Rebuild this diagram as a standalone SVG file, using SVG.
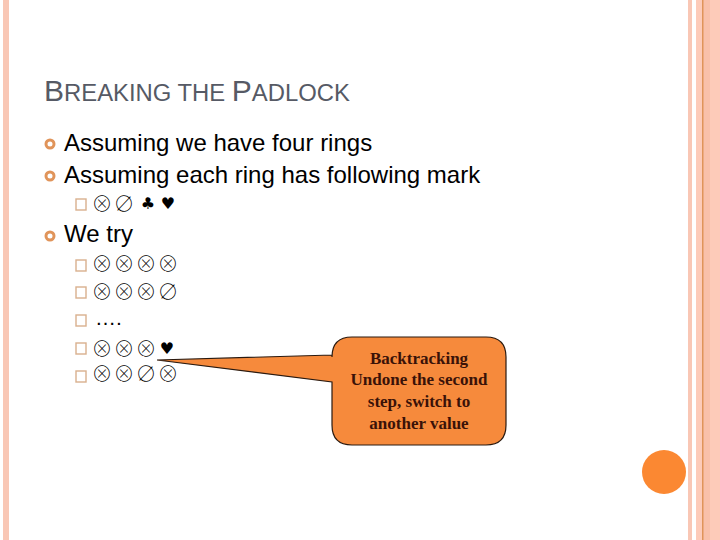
<svg xmlns="http://www.w3.org/2000/svg" width="720" height="540" viewBox="0 0 720 540">
<style>
.t{font-family:"Liberation Sans",Arial,sans-serif;fill:#000;font-size:24px}
.d{font-family:"Liberation Sans",Arial,sans-serif;fill:#000;font-size:21px}
.title{font-family:"Liberation Sans",Arial,sans-serif;fill:#565a65;font-size:23.85px}
.title .c{font-size:30px}
.b{fill:#fff;stroke:#e0945a;stroke-width:3}
.sq{fill:#fff;stroke:#d9b08e;stroke-width:1.4}
.g{font-family:"Noto Sans CJK JP",sans-serif;font-weight:100;font-size:21px;fill:#000;text-anchor:middle}
.s{font-family:"DejaVu Sans",sans-serif;font-size:16px;fill:#000;text-anchor:middle}
.k{font-family:"Liberation Serif","Times New Roman",serif;font-weight:bold;font-size:17px;fill:#3a1208;text-anchor:middle}
</style>
<rect width="720" height="540" fill="#fff"/>
<g id="frame">
<rect x="3" y="0" width="6" height="540" fill="#f9c7b5"/>
<rect x="688" y="0" width="4" height="540" fill="#f9c7b5"/>
<rect x="696" y="0" width="24" height="540" fill="#fdcbb9"/>
<rect x="703" y="0" width="7" height="540" fill="#f9c0aa"/>
<rect x="702" y="0" width="1.5" height="540" fill="#e0945a"/>
<circle cx="664" cy="472" r="22" fill="#fb8832"/>
</g>
<g id="title"><text class="title" x="44" y="101"><tspan class="c">B</tspan>REAKING THE <tspan class="c">P</tspan>ADLOCK</text></g>
<g id="bullets">
<circle class="b" cx="50" cy="144" r="4"/><circle class="b" cx="50" cy="176" r="4"/><circle class="b" cx="50" cy="236" r="4"/>
<text class="t" x="64" y="151">Assuming we have four rings</text>
<text class="t" x="64" y="183">Assuming each ring has following mark</text>
<text class="t" x="64" y="242">We try</text>
</g>
<g id="subs">
<rect class="sq" x="76" y="199" width="10" height="11"/>
<rect class="sq" x="76" y="260" width="10" height="11"/>
<rect class="sq" x="76" y="287" width="10" height="11"/>
<rect class="sq" x="76" y="315" width="10" height="11"/>
<rect class="sq" x="76" y="343" width="10" height="11"/>
<rect class="sq" x="76" y="371" width="10" height="11"/>
<text class="g" x="102" y="211">⊗</text><text class="g" x="124" y="211">∅</text><text class="s" x="148" y="209">♣</text><text class="s" x="168" y="209">♥</text>
<text class="g" x="102" y="271">⊗</text><text class="g" x="124" y="271">⊗</text><text class="g" x="146" y="271">⊗</text><text class="g" x="168" y="271">⊗</text>
<text class="g" x="102" y="299">⊗</text><text class="g" x="124" y="299">⊗</text><text class="g" x="146" y="299">⊗</text><text class="g" x="168" y="299">∅</text>
<text class="d" x="95" y="325">….</text>
<text class="g" x="102" y="356">⊗</text><text class="g" x="124" y="356">⊗</text><text class="g" x="146" y="356">⊗</text><text class="s" x="167" y="354">♥</text>
<text class="g" x="102" y="381">⊗</text><text class="g" x="124" y="381">⊗</text><text class="g" x="146" y="381">∅</text><text class="g" x="168" y="381">⊗</text>
</g>
<g id="callout">
<path d="M157 360L332 355V357Q332 337 352 337H486Q506 337 506 357V425Q506 445 486 445H352Q332 445 332 425V382Z" fill="#f68a3c" stroke="#2a1a10" stroke-width="1.2"/>
<text class="k" x="419" y="364">Backtracking</text>
<text class="k" x="419" y="385">Undone the second</text>
<text class="k" x="419" y="407">step, switch to</text>
<text class="k" x="419" y="429">another value</text>
</g>
</svg>
